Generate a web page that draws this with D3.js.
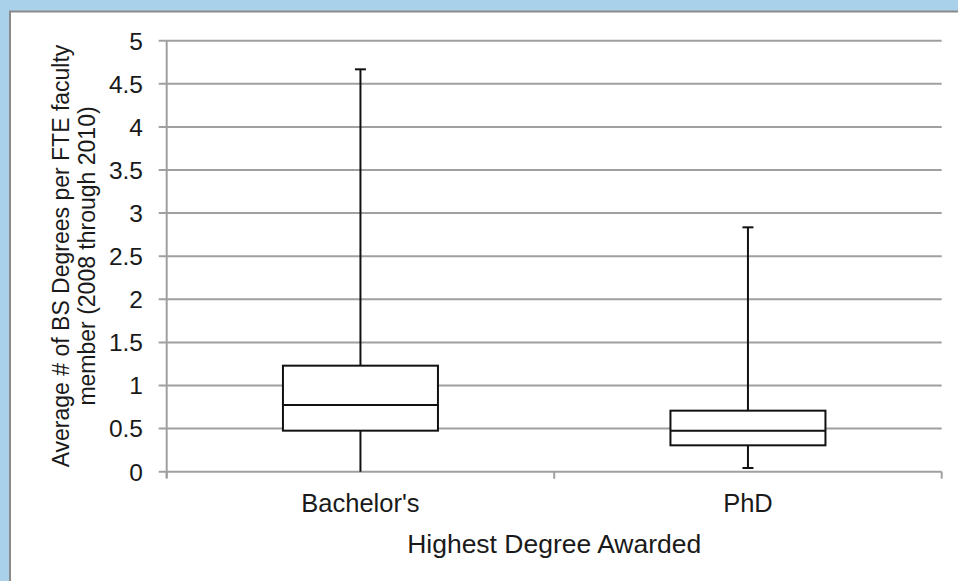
<!DOCTYPE html>
<html><head><meta charset="utf-8">
<script src="https://cdn.jsdelivr.net/npm/d3@7"></script>
<style>body{margin:0;background:#a9d1ea;}svg{display:block;}</style>
</head><body>
<svg id="chart" width="958" height="581"></svg>
<script>
const categories = ["Bachelor's", "PhD"];
const whiskerMin = [0, 0.043];
const q1 = [0.476, 0.306];
const median = [0.774, 0.476];
const q3 = [1.23, 0.708];
const whiskerMax = [4.668, 2.835];
const yTicks = [0, 0.5, 1, 1.5, 2, 2.5, 3, 3.5, 4, 4.5, 5];
const yTickLabels = ["0", "0.5", "1", "1.5", "2", "2.5", "3", "3.5", "4", "4.5", "5"];
const xTitle = "Highest Degree Awarded";
const yTitleLines = ["Average # of BS Degrees per FTE faculty", "member (2008 through 2010)"];

(function () {
const svg = d3.select("#chart");
const font = "'Liberation Sans', Arial, sans-serif";

svg.append("rect").attr("x", 10).attr("y", 12).attr("width", 948).attr("height", 569).attr("fill", "#fff");
svg.append("line").attr("x1", 10).attr("x2", 10).attr("y1", 11).attr("y2", 581).attr("stroke", "#8a8a8a").attr("stroke-width", 2);
svg.append("line").attr("x1", 9).attr("x2", 958).attr("y1", 11.5).attr("y2", 11.5).attr("stroke", "#8a8a8a").attr("stroke-width", 2);

const pl = 166.7, pr = 941.7, pt = 40.7, pb = 471.7;
const x = d3.scaleBand().domain(categories).range([pl, pr]);
const y = d3.scaleLinear().domain([0, 5]).range([pb, pt]);

const g = svg.append("g");
g.selectAll(".grid").data(yTicks).join("line")
  .attr("x1", pl - 8).attr("x2", pr)
  .attr("y1", d => y(d)).attr("y2", d => y(d))
  .attr("stroke", "#a0a0a0").attr("stroke-width", 2);

g.append("line").attr("x1", pl).attr("x2", pl).attr("y1", pt).attr("y2", pb + 6)
  .attr("stroke", "#a0a0a0").attr("stroke-width", 2);

const xTickPos = [pl, ...categories.map(c => x(c) + x.bandwidth())];
g.selectAll(".xt").data(xTickPos).join("line")
  .attr("x1", d => d).attr("x2", d => d).attr("y1", pb).attr("y2", pb + 7)
  .attr("stroke", "#a0a0a0").attr("stroke-width", 2);

g.selectAll(".yl").data(yTicks).join("text")
  .attr("x", 143).attr("y", d => y(d)).attr("dy", "0.36em")
  .attr("text-anchor", "end").attr("font-family", font).attr("font-size", 24.5)
  .attr("fill", "#1a1a1a").text((d, i) => yTickLabels[i]);

g.selectAll(".xl").data(categories).join("text")
  .attr("x", d => x(d) + x.bandwidth() / 2).attr("y", 512)
  .attr("text-anchor", "middle").attr("font-family", font).attr("font-size", 25.5)
  .attr("fill", "#1a1a1a").text(d => d);

g.append("text").attr("x", x(categories[0]) + x.bandwidth()).attr("y", 553)
  .attr("text-anchor", "middle").attr("font-family", font).attr("font-size", 26.5)
  .attr("fill", "#1a1a1a").text(xTitle);

const yt = g.append("text").attr("transform", "translate(75,256) rotate(-90)")
  .attr("text-anchor", "middle").attr("font-family", font).attr("font-size", 23).attr("fill", "#1a1a1a");
yt.selectAll("tspan").data(yTitleLines).join("tspan")
  .attr("x", 0).attr("y", (d, i) => i === 0 ? -6 : 20).text(d => d);

const boxW = x.bandwidth() * 0.4;
const capW = 11;
categories.forEach((c, i) => {
  const cx = x(c) + x.bandwidth() / 2;
  const bg = svg.append("g").attr("stroke", "#111").attr("stroke-width", 2).attr("fill", "none");
  bg.append("line").attr("x1", cx).attr("x2", cx).attr("y1", y(whiskerMax[i])).attr("y2", y(q3[i]));
  bg.append("line").attr("x1", cx).attr("x2", cx).attr("y1", y(q1[i])).attr("y2", y(whiskerMin[i]));
  bg.append("line").attr("x1", cx - capW / 2).attr("x2", cx + capW / 2).attr("y1", y(whiskerMax[i])).attr("y2", y(whiskerMax[i]));
  if (whiskerMin[i] > 0)
    bg.append("line").attr("x1", cx - capW / 2).attr("x2", cx + capW / 2).attr("y1", y(whiskerMin[i])).attr("y2", y(whiskerMin[i]));
  bg.append("rect").attr("x", cx - boxW / 2).attr("width", boxW)
    .attr("y", y(q3[i])).attr("height", y(q1[i]) - y(q3[i])).attr("fill", "#fff");
  bg.append("line").attr("x1", cx - boxW / 2).attr("x2", cx + boxW / 2).attr("y1", y(median[i])).attr("y2", y(median[i]));
});
})();
</script>
</body></html>
